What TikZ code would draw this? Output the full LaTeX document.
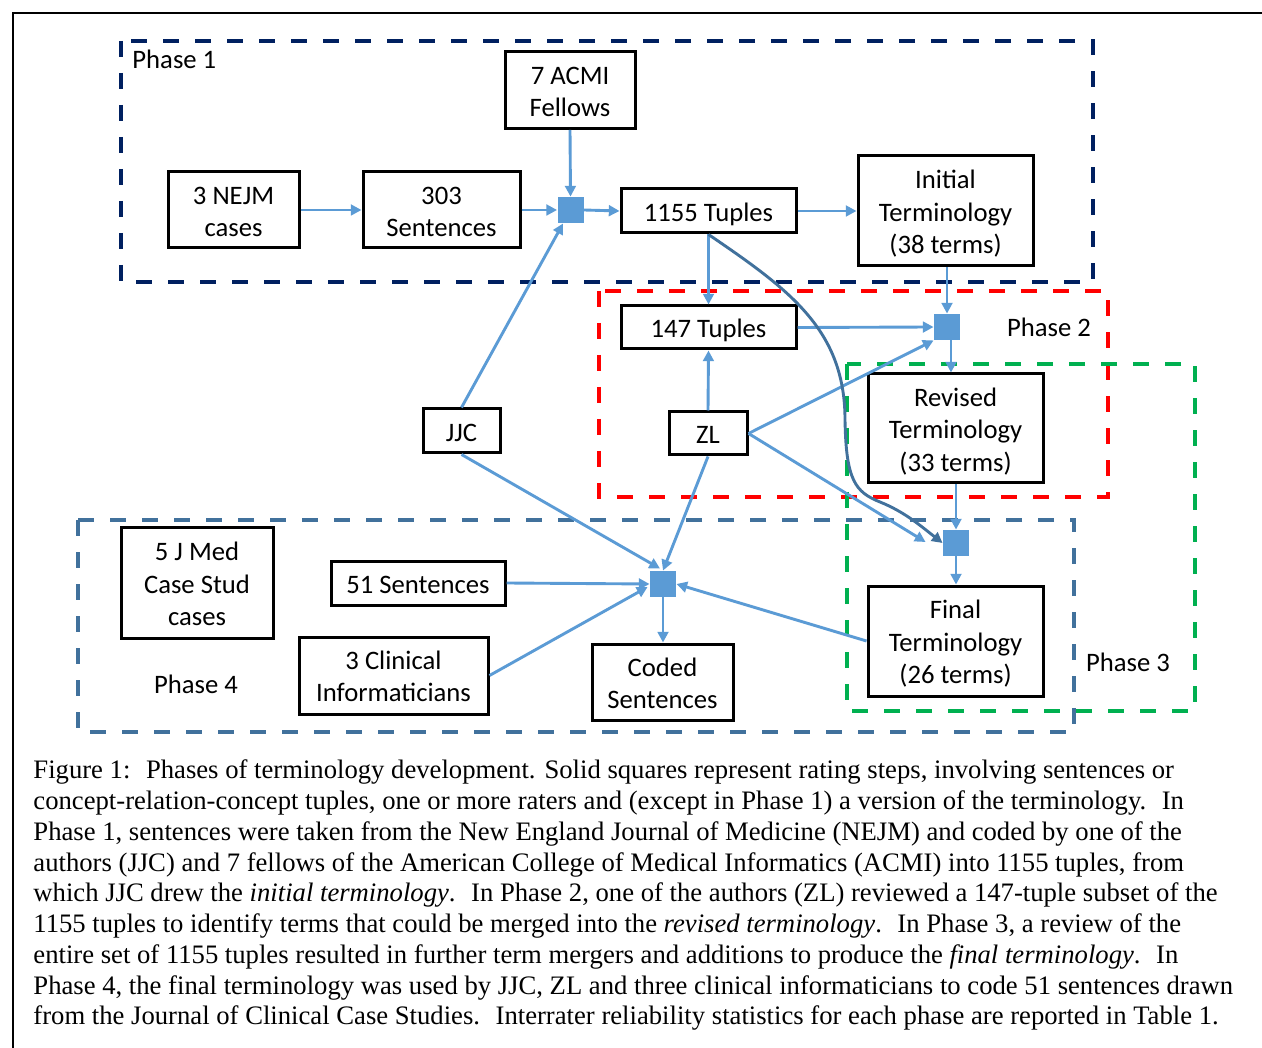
\documentclass[tikz,border=0pt]{standalone}
\usepackage{fontspec}
\setmainfont{Liberation Serif}
\newfontfamily\calibri{Carlito}
\usetikzlibrary{arrows.meta,calc}
\definecolor{arrowblue}{HTML}{5B9BD5}
\definecolor{darkcurve}{HTML}{41719C}
\definecolor{navy}{HTML}{002060}
\definecolor{phred}{HTML}{FF0000}
\definecolor{phgreen}{HTML}{00B050}
\definecolor{phsteel}{HTML}{41719C}
\newcommand\bt[1]{\raisebox{-1.7pt}[\height][\depth]{\begin{tabular}{@{}c@{}}#1\end{tabular}}}
\tikzset{
  box/.style={draw=black, line width=1.35pt, fill=white, inner sep=0pt},
  sz/.style 2 args={minimum width=#1*0.45pt, minimum height=#2*0.45pt},
  sq/.style={fill=arrowblue, draw=none, minimum size=26*0.45pt, inner sep=0pt},
  arr/.style={draw=arrowblue, line width=1.3pt, -{Triangle[length=4.8pt,width=4.8pt]}},
  curvearr/.style={draw=darkcurve, line width=1.3pt, -{Triangle[length=4.8pt,width=4.8pt]}},
  phase/.style={line width=1.8pt, dash pattern=on 7.4pt off 7pt},
  lbl/.style={inner sep=0pt},
  captext/.style={inner sep=0pt, anchor=base west, font=\rmfamily\fontsize{12}{14}\selectfont}
}
\begin{document}
\begin{tikzpicture}[x=0.45pt, y=-0.45pt, font={\calibri\fontsize{12}{14.6}\selectfont}]
\useasboundingbox (0,0) rectangle (1262,1048);
\fill[white] (0,0) rectangle (1262,1048);
% frame
\draw[line width=1.1pt] (13,1048) -- (13,13) -- (1262,13);

% phase boxes
\draw[phase, draw=navy] (121,41) rectangle (1093,282);
\draw[phase, draw=phred] (599,291) rectangle (1108,497);
\draw[phase, draw=phgreen] (847,364) rectangle (1195,711);
\draw[phase, draw=phsteel] (78,520) rectangle (1074,732);

% phase labels
\node[lbl, anchor=west] (p1) at (132,59) {Phase 1};
\node[lbl] (p2) at (1049,327) {Phase 2};
\node[lbl] (p3) at (1128,662) {Phase 3};
\node[lbl] (p4) at (196,684) {Phase 4};

% nodes
\node[box, sz={130}{77}] (acmi) at (570,90) {\bt{7 ACMI\\Fellows}};
\node[box, sz={131}{76}] (nejm) at (233.5,210) {\bt{3 NEJM\\cases}};
\node[box, sz={157}{76}] (s303) at (441.5,210) {\bt{303\\Sentences}};
\node[sq] (sq1) at (570.5,210) {};
\node[box, sz={175}{44}] (t1155) at (708.5,211) {\bt{1155 Tuples}};
\node[box, sz={175}{110}] (init) at (945.5,211) {\bt{Initial\\Terminology\\(38 terms)}};
\node[box, sz={175}{43}] (t147) at (708.5,327.5) {\bt{147 Tuples}};
\node[sq] (sq2) at (947,327) {};
\node[box, sz={175}{109}] (rev) at (955.5,428.5) {\bt{Revised\\Terminology\\(33 terms)}};
\node[box, sz={77}{44}] (jjc) at (461.5,431) {\bt{JJC}};
\node[box, sz={78}{43}] (zl) at (708,433.5) {\bt{ZL}};
\node[sq] (sq3) at (956,543) {};
\node[box, sz={175}{110}] (final) at (955.5,641) {\bt{Final\\Terminology\\(26 terms)}};
\node[box, sz={152}{110}] (jmed) at (197,583) {\bt{5 J Med\\Case Stud\\cases}};
\node[box, sz={174}{44}] (s51) at (418,583) {\bt{51 Sentences}};
\node[box, sz={189}{77}] (clin) at (393.5,675.5) {\bt{3 Clinical\\Informaticians}};
\node[sq] (sq4) at (663,584) {};
\node[box, sz={141}{76}] (coded) at (662.5,682) {\bt{Coded\\Sentences}};

\coordinate (zlend) at ($(sq3.west)+(-17,-1)$);
\coordinate (jjcend) at ($(sq4.north)+(-3,-2)$);
\coordinate (clinend) at ($(sq4.west)+(-2,3)$);
\coordinate (s2b) at ($(sq2.south)+(4,0)$);

% arrows
\draw[arr] (nejm.east) -- (s303.west);
\draw[arr] (s303.east) -- (sq1.west);
\draw[arr] (acmi.south) -- (sq1.north);
\draw[arr] (jjc.north) -- (sq1);
\draw[arr] (sq1.east) -- (t1155.west);
\draw[arr] (t1155.east) -- (t1155.east -| init.west);
\draw[arr] (t1155.south) -- (t147.north);
\draw[arr] (sq2.north |- init.south) -- (sq2.north);
\draw[arr] (t147.east) -- (sq2.west);
\draw[arr] (zl.north) -- (t147.south);
\draw[arr] (zl.east) -- (sq2.south west);
\draw[arr] (zl.east) -- (zlend);
\draw[arr] (s2b) -- (s2b |- rev.north);
\draw[arr] (sq3.north |- rev.south) -- (sq3.north);
\draw[arr] (sq3.south) -- (sq3.south |- final.north);
\draw[curvearr] (t1155.south) .. controls (790,290) and (845,330) .. (845,420)
   .. controls (846,480) and (855,492) .. (880,502)
   .. controls (905,512) and (922,527) .. (sq3.west);
\draw[arr] (jjc.south) -- (jjcend);
\draw[arr] (zl.south) -- (sq4.north);
\draw[arr] (s51.east) -- (sq4.west);
\draw[arr] (clin.east) -- (clinend);
\draw[arr] (final.west) -- (sq4.east);
\draw[arr] (sq4.south) -- (sq4.south |- coded.north);

% caption
\node[captext] (c1) at (33,778) {Figure 1:~ Phases of terminology development. Solid squares represent rating steps, involving sentences or};
\node[captext] (c2) at (33,809) {concept-relation-concept tuples, one or more raters and (except in Phase 1) a version of the terminology.~ In};
\node[captext] (c3) at (33,840) {Phase 1, sentences were taken from the New England Journal of Medicine (NEJM) and coded by one of the};
\node[captext] (c4) at (33,871) {authors (JJC) and 7 fellows of the American College of Medical Informatics (ACMI) into 1155 tuples, from};
\node[captext] (c5) at (33,901) {which JJC drew the \textit{initial terminology}.~ In Phase 2, one of the authors (ZL) reviewed a 147-tuple subset of the};
\node[captext] (c6) at (33,932) {1155 tuples to identify terms that could be merged into the \textit{revised terminology}.~ In Phase 3, a review of the};
\node[captext] (c7) at (33,963) {entire set of 1155 tuples resulted in further term mergers and additions to produce the \textit{final terminology}.~ In};
\node[captext] (c8) at (33,994) {Phase 4, the final terminology was used by JJC, ZL and three clinical informaticians to code 51 sentences drawn};
\node[captext] (c9) at (33,1024) {from the Journal of Clinical Case Studies.~ Interrater reliability statistics for each phase are reported in Table 1.};
\end{tikzpicture}
\end{document}
